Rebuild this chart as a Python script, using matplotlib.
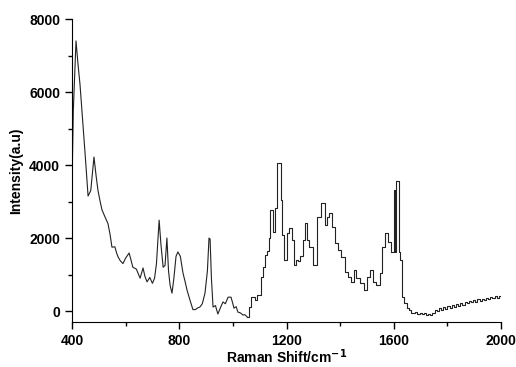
import matplotlib
matplotlib.use("Agg")
import matplotlib.pyplot as plt
from matplotlib.ticker import MultipleLocator

plt.rcParams['font.family'] = ['Liberation Sans', 'DejaVu Sans']
plt.rcParams['font.weight'] = 'bold'

# smooth part of the spectrum (cm-1, intensity)
shift_a = [400, 405, 415, 422, 430, 440, 450, 460, 470, 482, 490, 497, 505, 512,
           523, 534, 542, 549, 560, 566, 572, 580, 590, 600, 613, 620, 627, 640,
           654, 665, 672, 680, 690, 700, 708, 715, 725, 732, 740, 747, 754, 760,
           766, 773, 780, 788, 795, 804, 814, 822, 829, 840, 851, 860, 870, 877,
           886, 896, 905, 911, 915, 920, 926, 935, 944, 953, 963, 972, 982, 993,
           1000, 1004, 1012, 1019, 1028, 1038, 1045, 1053]
inten_a = [3400, 5500, 7400, 6800, 6200, 5200, 4200, 3150, 3300, 4220, 3700, 3300,
           3000, 2770, 2580, 2400, 2100, 1750, 1760, 1600, 1480, 1380, 1300, 1450,
           1590, 1400, 1200, 1150, 900, 1180, 950, 800, 920, 760, 900, 1300, 2490,
           1800, 1200, 1250, 2000, 1100, 700, 490, 900, 1500, 1620, 1500, 1040, 800,
           575, 300, 40, 40, 90, 110, 200, 490, 1100, 2000, 1970, 900, 110, 150,
           -80, 80, 250, 200, 380, 380, 200, 80, 120, -30, -50, -110, -100, -160]

# stepped part of the spectrum
shift_b = [1053, 1060, 1068, 1075, 1082, 1090, 1097, 1104, 1112, 1120, 1128, 1135,
           1139, 1150, 1157, 1166, 1180, 1184, 1192, 1202, 1210, 1220, 1227, 1235,
           1243, 1250, 1260, 1268, 1276, 1285, 1298, 1314, 1330, 1343, 1350, 1360,
           1370, 1380, 1392, 1405, 1418, 1428, 1440, 1450, 1460, 1475, 1488, 1500,
           1512, 1522, 1535, 1548, 1556, 1566, 1578, 1590, 1600, 1606, 1610, 1618,
           1625, 1632, 1640, 1648, 1656, 1664, 1672, 1680, 1688, 1696, 1704, 1712,
           1720, 1728, 1736, 1744, 1752, 1760, 1768, 1776, 1784, 1792, 1800, 1808,
           1816, 1824, 1832, 1840, 1848, 1856, 1864, 1872, 1880, 1888, 1896, 1904,
           1912, 1920, 1928, 1936, 1944, 1952, 1960, 1968, 1976, 1984, 1992, 2000]
inten_b = [-160, 110, 380, 380, 300, 440, 450, 930, 1200, 1530, 1650, 2000,
           2770, 2160, 2820, 4050, 3040, 2080, 1400, 2140, 2270, 1950, 1260, 1400,
           1380, 1500, 1950, 2410, 1950, 1750, 1260, 2580, 2960, 2360, 2580, 2690,
           2300, 1860, 1670, 1480, 1070, 930, 800, 1120, 900, 770, 575, 930,
           1120, 800, 710, 1040, 1750, 2140, 1890, 1620, 3310, 1620, 3550, 1620,
           1400, 380, 220, 80, 20, -40, -60, -20, -70, -40, -80, -60,
           -100, -80, -120, -60, 40, -10, 80, 40, 110, 60, 130, 80,
           160, 120, 190, 150, 220, 170, 250, 210, 280, 240, 300, 260,
           320, 280, 340, 300, 360, 330, 380, 350, 400, 370, 410, 400]

fig = plt.figure(figsize=(5.16, 3.67), dpi=100)
ax = fig.add_axes([0.1395, 0.1226, 0.8315, 0.8256])

ax.plot(shift_a, inten_a, color='#222222', lw=0.8)
ax.plot(shift_b, inten_b, color='#222222', lw=0.8, drawstyle='steps-post')

ax.set_xlim(400, 2000)
ax.set_ylim(-300, 8000)
ax.xaxis.set_major_locator(MultipleLocator(400))
ax.xaxis.set_minor_locator(MultipleLocator(200))
ax.yaxis.set_major_locator(MultipleLocator(2000))
ax.yaxis.set_minor_locator(MultipleLocator(1000))
ax.tick_params(which='major', length=5, width=1, labelsize=10)
ax.tick_params(which='minor', length=3, width=1)
ax.spines['top'].set_visible(False)
ax.spines['right'].set_visible(False)

ax.set_xlabel('Raman Shift/cm$^{\\mathbf{-1}}$', fontsize=10,
              fontweight='bold', labelpad=0)
ax.set_ylabel('Intensity(a.u)', fontsize=10, fontweight='bold')

fig.savefig('out.png', dpi=100)
